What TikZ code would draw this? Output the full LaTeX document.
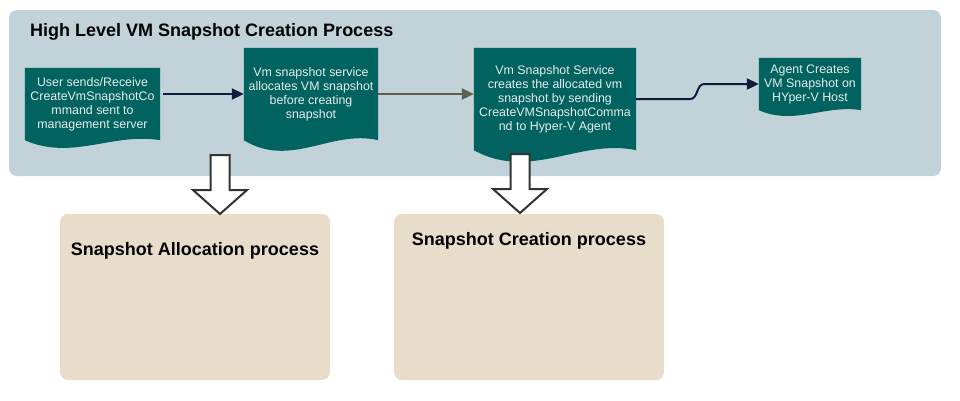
\documentclass[tikz,border=0pt]{standalone}
\usepackage{fontspec}
\setmainfont{Liberation Sans}
\usetikzlibrary{arrows.meta,calc}
\pgfdeclarelayer{background}
\pgfsetlayers{background,main}
\definecolor{panelgrey}{RGB}{193,210,216}
\definecolor{docteal}{RGB}{0,99,96}
\definecolor{doctext}{RGB}{232,236,236}
\definecolor{boxbeige}{RGB}{232,221,203}
\definecolor{navy}{RGB}{16,28,62}
\definecolor{olive}{RGB}{96,94,78}
\definecolor{outline}{RGB}{51,51,51}
\tikzstyle{doc}=[inner sep=0pt,align=center,text=doctext,font=\fontsize{12.4}{14}\selectfont]
\tikzstyle{docfill}=[fill=docteal]
\tikzstyle{panel}=[fill=panelgrey,rounded corners=8pt,minimum width=932pt,minimum height=166pt]
\tikzstyle{procbox}=[fill=boxbeige,rounded corners=8pt,minimum width=270pt,minimum height=166pt]
\tikzstyle{heading}=[font=\fontsize{18}{21}\selectfont\bfseries,inner sep=0pt]
\tikzstyle{flow}=[draw,line width=2pt,-{Triangle[length=12pt,width=11pt]}]
\tikzstyle{blockarrow}=[draw=outline,fill=white,line width=2pt]

\begin{document}
\begin{tikzpicture}[x=1pt,y=-1pt]
    \useasboundingbox (0,0) rectangle (960,400);
    \node[heading,anchor=base west] (title) at (30,36) {High Level VM Snapshot Creation Process};
    % First we draw the documents
    \foreach \pos/\name/\dw/\dh/\txt in {{(92.5,104)/doc1/135/72/{User sends/Receive\\CreateVmSnapshotCo\\mmand sent to\\management server}},
        {(311,94)/doc2/134/92/{Vm snapshot service\\allocates VM snapshot\\before creating\\snapshot}},
        {(555,99)/doc3/162/102/{Vm Snapshot Service\\creates the allocated vm\\snapshot by sending\\CreateVMSnapshotComma\\nd to Hyper-V Agent}},
        {(810,84)/doc4/102/52/{Agent Creates\\VM Snapshot on\\HYper-V Host}}}
        \node[doc,minimum width=\dw pt,minimum height=\dh pt] (\name) at \pos {\txt};
    % Panel and wavy document shapes behind the text
    \begin{pgfonlayer}{background}
        \node[panel] (panel) at (475,93) {};
        \foreach \d/\dep in {doc1/8,doc2/11,doc3/12,doc4/6}
            \fill[docfill] (\d.south east) .. controls ($(\d.south east)!0.35!(\d.south west)+(0,-\dep)$) and ($(\d.south east)!0.65!(\d.south west)+(0,2.6*\dep)$) .. (\d.south west) -- (\d.north west) -- (\d.north east) -- cycle;
    \end{pgfonlayer}
    % Connect documents with arrows
    \draw[flow,navy,shorten <=3pt] (doc1.east |- doc2.west) -- (doc2.west);
    \draw[flow,olive] (doc2.east) -- (doc3.west |- doc2.east);
    \draw[flow,navy] (doc3.east) -- ++(54,0) .. controls +(8,0) and +(-8,0) .. ++(14,-15) -- (doc4.west);
    % Sub processes
    \node[procbox] (box1) at (195,297) {};
    \node[procbox] (box2) at (529,297) {};
    \node[heading,anchor=base] (lbl1) at (195,255) {Snapshot Allocation process};
    \node[heading,anchor=base] (lbl2) at (529,245) {Snapshot Creation process};
    \coordinate (tip1) at (220,214);
    \coordinate (tip2) at (520,213);
    \foreach \t in {tip1,tip2}
        \draw[blockarrow] (\t) -- ++(-27,-24) -- ++(17.5,0) -- ++(0,-35) -- ++(19,0) -- ++(0,35) -- ++(17.5,0) -- cycle;
\end{tikzpicture}
\end{document}
